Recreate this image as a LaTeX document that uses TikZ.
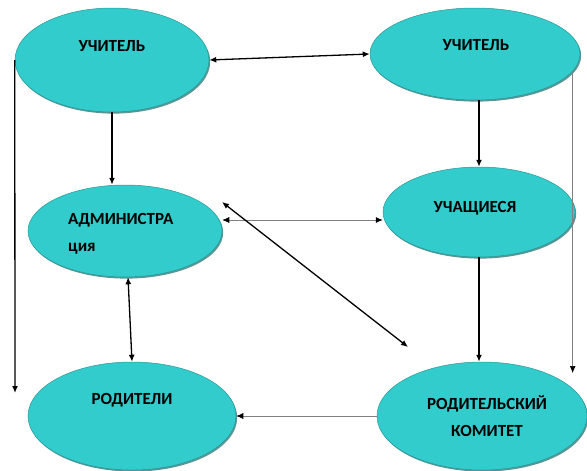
\documentclass[tikz,border=0pt]{standalone}
\usepackage{fontspec}
\setmainfont{Carlito}
\usetikzlibrary{arrows.meta,shapes.geometric,shadows}
\definecolor{tealc}{RGB}{51,204,204}
\begin{document}
\begin{tikzpicture}[x=1pt,y=-1pt,
  ell/.style={ellipse, fill=tealc, draw=tealc!75!black, line width=0.5pt, inner sep=0pt,
    drop shadow={shadow xshift=1.2pt, shadow yshift=-1.6pt, fill=tealc!50!black, opacity=0.7}},
  lbl/.style={font=\bfseries\fontsize{17}{27}\selectfont, inner sep=0pt},
  blk/.style={line width=1.3pt, draw=black},
  gry/.style={line width=0.7pt, draw=gray},
  onearr/.style={-{Latex[length=7pt,width=6pt,color=black]}},
  twoarr/.style={{Latex[length=7pt,width=6pt,color=black]}-{Latex[length=7pt,width=6pt,color=black]}}
]
\useasboundingbox (0,0) rectangle (587,471);
\node[ell, minimum width=194pt, minimum height=104pt] (e1) at (112,60) {};
\node[ell, minimum width=210pt, minimum height=92pt] (e2) at (475,54) {};
\node[ell, minimum width=194pt, minimum height=92pt] (e3) at (125,231) {};
\node[ell, minimum width=192pt, minimum height=90pt] (e4) at (479,212) {};
\node[ell, minimum width=208pt, minimum height=108pt] (e5) at (132,416) {};
\node[ell, minimum width=210pt, minimum height=108pt] (e6) at (482,416) {};

\node[lbl] (t1) at (112,46) {УЧИТЕЛЬ};
\node[lbl] (t2) at (476,45) {УЧИТЕЛЬ};
\node[lbl, align=left, anchor=west] (t3) at (68,234) {АДМИНИСТРА\\ция};
\node[lbl] (t4) at (475,208) {УЧАЩИЕСЯ};
\node[lbl] (t5) at (132,400) {РОДИТЕЛИ};
\node[lbl, align=center] (t6) at (487,416) {РОДИТЕЛЬСКИЙ\\КОМИТЕТ};

\coordinate (lend) at (15,393);
\coordinate (rend) at (575,373);
\coordinate (m) at (300,220);
\coordinate (d1) at (222,202);
\coordinate (d2) at (408,347);

\draw[blk, twoarr] (e1.east) -- (e2.west);
\draw[blk, onearr] (e1.south) -- (e1.south |- e3.north);
\draw[blk, onearr] (e4.north |- e2.south) -- (e4.north);
\draw[blk, onearr] (e1.west) -- (lend);
\draw[gry, onearr] (e2.-10) -- (e2.-10 |- rend);
\draw[gry, twoarr] (e3.east |- m) -- (e4.west |- m);
\draw[blk, twoarr] (d1) -- (d2);
\draw[blk, twoarr] ([xshift=3pt]e3.south) -- (e5.north);
\draw[blk, onearr] (e4.south) -- (e4.south |- e6.north);
\draw[gry, onearr] (e6.west) -- (e5.east);
\end{tikzpicture}
\end{document}
